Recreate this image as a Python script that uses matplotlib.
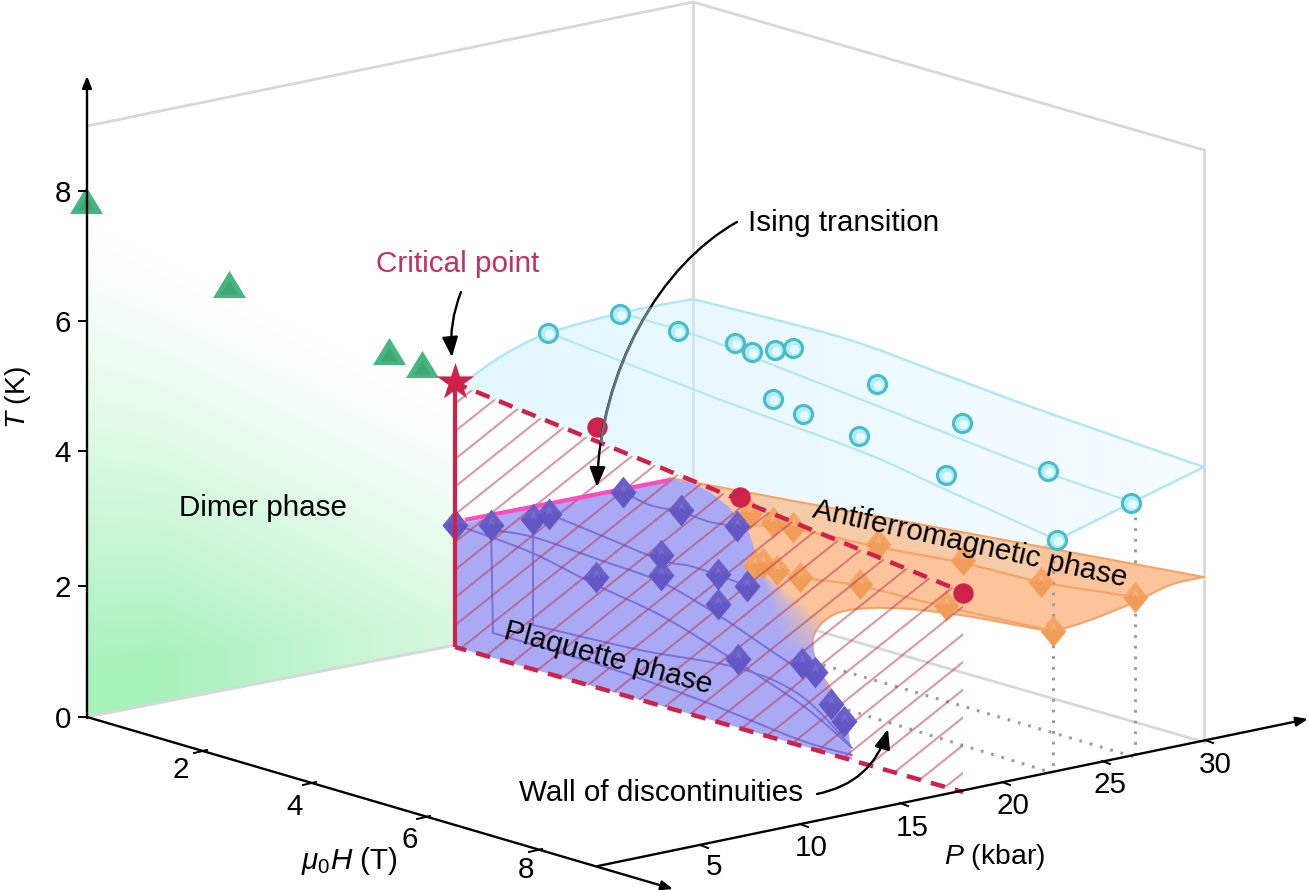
"""Pressure / field / temperature phase diagram drawn as a projected 3D box.

All coordinates are read off the figure in image pixels (x right, y down).
"""
import numpy as np
import matplotlib
matplotlib.use("Agg")
import matplotlib.pyplot as plt
from matplotlib.patches import Polygon, PathPatch, FancyArrowPatch
from matplotlib.path import Path

plt.rcParams["font.family"] = ["Liberation Sans", "DejaVu Sans"]
plt.rcParams["mathtext.fontset"] = "custom"
plt.rcParams["mathtext.rm"] = "Liberation Sans"
plt.rcParams["mathtext.it"] = "Liberation Sans:italic"

W, H = 1309, 890

# markers
dimer_x = [86, 229, 389, 422]
dimer_y = [200, 284, 351, 364]
plaquette_x = [491, 533, 549, 623, 681, 737, 661, 661, 596, 718, 747, 718, 738, 802, 815, 831, 844, 455]
plaquette_y = [525, 519, 514, 492, 510, 526, 555, 575, 577, 574, 586, 604, 659, 663, 672, 704, 721, 525]
afm_x = [750, 773, 793, 878, 963, 1041, 1135, 1053, 946, 860, 800, 777, 763, 755]
afm_y = [513, 522, 527, 544, 560, 582, 597, 631, 605, 584, 577, 570, 563, 565]
para_x = [548, 620, 678, 735, 752, 775, 793, 877, 773, 803, 859, 962, 946, 1048, 1131, 1057]
para_y = [333, 314, 331, 343, 352, 350, 348, 384, 399, 414, 436, 423, 475, 471, 503, 540]
ising_x = [597, 740, 963]
ising_y = [427, 497, 593]

# tick positions and labels
t_labels = ["0", "2", "4", "6", "8"]
t_tick_y = [717, 586, 451, 321, 191]
h_labels = ["2", "4", "6", "8"]
h_tick_x = [203, 312, 426, 538]
h_tick_y = [751, 783, 817, 850]
h_label_x = [181, 295, 410, 526]
h_label_y = [770, 807, 840, 870]
p_labels = ["5", "10", "15", "20", "25", "30"]
p_tick_x = [700, 800, 900, 1002, 1102, 1205]
p_tick_y = [845, 824, 803, 782, 761, 740]
p_label_x = [714, 811, 912, 1013, 1110, 1215]
p_label_y = [867, 848, 828, 806, 785, 765]

# outlines
green_outline = [(87, 200), (455, 383), (455, 647), (87, 717)]
para_left = [(470, 378), (505, 354), (549, 333), (621, 313), (693, 299)]
para_top = [(693, 299), (840, 337), (940, 373), (1040, 410), (1204, 467)]
para_outline = para_left + para_top[1:] + [(1131, 503), (1057, 540), (963, 592), (455, 383)]
afm_outline = [(670, 478), (1204, 577), (1170, 585), (1135, 602), (1090, 620), (1053, 632), (1000, 622),
               (960, 615), (910, 609), (870, 608), (840, 612), (822, 623), (813, 638), (814, 655),
               (822, 675), (835, 695), (800, 700), (700, 560)]
plaq_outline = [(455, 525), (670, 479), (690, 482), (710, 492), (730, 508), (745, 530), (830, 560),
                (822, 623), (813, 638), (814, 655), (822, 675), (835, 700), (848, 725),
                (852, 760), (455, 647)]
wall_outline = [(455, 383), (963, 592), (963, 792), (455, 647)]


def smooth(pts):
    """Catmull-Rom through pts, as a Bezier path."""
    pts = np.asarray(pts, dtype=float)
    verts = [pts[0]]
    codes = [Path.MOVETO]
    for i in range(len(pts) - 1):
        p0 = pts[max(i - 1, 0)]
        p1, p2 = pts[i], pts[i + 1]
        p3 = pts[min(i + 2, len(pts) - 1)]
        verts += [p1 + (p2 - p0) / 6, p2 - (p3 - p1) / 6, p2]
        codes += [Path.CURVE4] * 3
    return Path(verts, codes)


def curve(ax, pts, color, lw, z, alpha=1.0):
    ax.add_patch(PathPatch(smooth(pts), fc="none", ec=color, lw=lw, zorder=z, alpha=alpha,
                           capstyle="round"))


def gradient(ax, rgba, outline, z):
    """rgba covers the whole canvas; clip it to the outline."""
    im = ax.imshow(rgba, extent=(0, W, H, 0), aspect="auto", zorder=z, interpolation="bilinear")
    im.set_clip_path(Polygon(outline, closed=True, transform=ax.transData))


def diamonds(ax, x, y, base, dark, light, w, z):
    shape = [(0, 1), (0.82, 0), (0, -1), (-0.82, 0)]
    lower = [(0, -1), (0.82, 0), (0, 0.25), (-0.82, 0)]
    top = [(0, 1), (0.45, 0), (0, 0.25), (-0.45, 0)]
    ax.scatter(x, y, s=w, marker=shape, c=base, lw=0, zorder=z)
    ax.scatter(x, y, s=w, marker=lower, c=dark, lw=0, zorder=z, alpha=0.45)
    ax.scatter(x, y, s=w * 0.28, marker=top, c=light, lw=0, zorder=z, alpha=0.4)


fig = plt.figure(figsize=(W / 100, H / 100), dpi=100)
ax = fig.add_axes([0, 0, 1, 1])

yy, xx = np.mgrid[0:H, 0:W] + 0.5

# green dimer wall, white towards the top
top = 215 + (xx - 87) * 0.5
bot = 717 - (xx - 87) * 0.196
frac = np.clip((yy - top) / (bot - top), 0, 1)
rgba = np.zeros((H, W, 4))
rgba[..., :3] = (0.66, 0.95, 0.74)
rgba[..., 3] = np.clip(frac ** 1.3 * 1.15, 0, 1) * np.clip(1.15 - (xx - 87) / 368 * 0.7, 0, 1)
gradient(ax, rgba, green_outline, 2)

# box edges
grey = "#d8d8d8"
ax.plot([87, 693, 1204], [126, 2, 150], color=grey, lw=2, zorder=1)
ax.plot([693, 693], [2, 595], color=grey, lw=2, zorder=1)
ax.plot([1204, 1204], [150, 742], color=grey, lw=2, zorder=1)
ax.plot([693, 1204], [595, 742], color=grey, lw=2, zorder=1)
ax.plot([87, 455], [717, 645], color=grey, lw=2, zorder=3)

# paramagnetic surface
rgba = np.zeros((H, W, 4))
rgba[..., :3] = (0.82, 0.95, 1.0)
rgba[..., 3] = np.clip(0.62 - (xx - 455) / 750 * 0.42, 0.2, 1)
gradient(ax, rgba, para_outline, 4)
sky = "#b4e6f6"
curve(ax, para_left, sky, 1.8, 5)
curve(ax, para_top, sky, 1.8, 5)
ax.plot([1204, 1131, 1057, 963], [467, 503, 540, 592], color=sky, lw=1.8, zorder=5)
curve(ax, [(549, 333), (695, 390), (740, 407), (865, 453), (940, 487), (1057, 540)], sky, 1.5, 5)
curve(ax, [(621, 313), (695, 335), (760, 360), (870, 403), (1040, 470), (1135, 503)], sky, 1.5, 5)

# orange surface
ax.add_patch(Polygon(afm_outline, closed=True, fc="#fcc49a", ec="none", zorder=6))
ax.add_patch(Polygon([(670, 478), (1041, 547), (1041, 582), (963, 560), (878, 544), (793, 527), (750, 515)],
                     closed=True, fc="#f5cba8", ec="none", zorder=6))
ax.plot([670, 1204], [478, 577], color="#f5a468", lw=1.5, zorder=7)
curve(ax, [(1204, 577), (1170, 585), (1135, 602), (1090, 620), (1053, 632)], "#f5a468", 1.5, 7)
curve(ax, [(1053, 632), (1000, 622), (960, 615), (910, 609), (870, 608), (840, 612), (822, 623), (813, 638),
           (814, 655), (822, 675), (835, 695)], "#f5a468", 1.5, 7)
curve(ax, [(750, 525), (800, 530), (878, 547), (963, 563), (1041, 582), (1135, 597)], "#f5a468", 1.5, 7)
curve(ax, [(755, 565), (800, 577), (860, 586), (946, 607), (1053, 631)], "#f5a468", 1.5, 7)

# dotted drop lines
dots = dict(color="#9c9c9c", lw=2.2, ls=(0, (0.9, 2.6)), zorder=5.5)
ax.plot([823, 1135], [665, 757], **dots)
ax.plot([848, 1053], [710, 773], **dots)
ax.plot([1053, 1053], [645, 773], **dots)
ax.plot([1135, 1135], [517, 757], **dots)
ax.plot([1053, 1053], [560, 632], color="#9c9c9c", lw=2.2, ls=(0, (0.9, 2.6)), zorder=7)

# plaquette surface, melting into the orange near the end of the first-order line
x_edge = 750 + (yy - 537) * 0.3
width = np.maximum(1, (yy - 570) * 1.0)
rgba = np.zeros((H, W, 4))
rgba[..., :3] = (0.67, 0.67, 0.96)
rgba[..., 3] = np.maximum(1 - np.clip((xx - x_edge) / width, 0, 1), np.clip((yy - 625) / 25, 0, 1))
gradient(ax, rgba, plaq_outline, 9)

violet = "#7a70d6"
for line in ([(465, 528), (530, 552), (596, 585), (660, 615), (718, 650), (802, 705), (852, 748)],
             [(491, 530), (533, 537), (600, 560), (661, 582), (718, 615), (770, 650), (815, 680)],
             [(549, 514), (600, 535), (661, 560), (690, 566), (718, 575), (747, 586)],
             [(623, 492), (650, 505), (681, 512), (710, 522), (737, 526)],
             [(493, 633), (600, 665), (700, 700), (800, 740), (852, 755)],
             [(533, 625), (640, 650), (738, 668), (800, 695), (850, 745)]):
    curve(ax, line, violet, 1.4, 10)
ax.plot([491, 493], [525, 633], color=violet, lw=1.4, zorder=10)
ax.plot([533, 533], [519, 625], color=violet, lw=1.4, zorder=10)

diamonds(ax, afm_x, afm_y, "#f4a565", "#ee9247", "#fbc898", 500, 10.5)

# hatching of the discontinuity wall
wall = Polygon(wall_outline, closed=True, transform=ax.transData)
for y0 in np.arange(1207, 375, -27.7):
    ln, = ax.plot([455, 963], [y0, y0 - 0.8 * 508], color="#b8324e", alpha=0.5, lw=1.5, zorder=11)
    ln.set_clip_path(wall)

diamonds(ax, plaquette_x, plaquette_y, "#6a5fc9", "#5a4fbe", "#8f88e2", 520, 12)

# transition lines
crimson = "#cf2149"
ax.plot([455, 455], [383, 647], color=crimson, lw=3, zorder=13, solid_capstyle="butt")
ax.plot([455, 963], [383, 592], color=crimson, lw=3.2, ls=(0.5, (3.3, 2.3)), zorder=13)
ax.plot([455, 963], [647, 792], color=crimson, lw=3.2, ls=(0.67, (3.3, 2.3)), zorder=13)
ax.plot([465, 670], [520, 480], color="#fb4fc0", lw=3.2, zorder=11.5, solid_capstyle="butt")

# markers
triangle = [(0, 0.82), (-1, -0.82), (1, -0.82)]
ax.scatter(dimer_x, dimer_y, s=565, marker=triangle, c="#47b580", lw=0, zorder=14)
ax.scatter(dimer_x, [v + 3 for v in dimer_y], s=150, marker=triangle, c="#3da874", lw=0, zorder=14)
ax.scatter(para_x, para_y, s=170, c="#b5ebf4", edgecolors="#47bccb", lw=2.2, zorder=14)
ax.scatter([v + 1 for v in para_x], [v + 1 for v in para_y], s=45, c="#e4fafd", lw=0, zorder=14)
ax.scatter(ising_x, ising_y, s=215, c=crimson, lw=0, zorder=14)
ax.scatter(455, 382, s=800, marker="*", c=crimson, lw=0, zorder=15)

# axes
axis_arrow = dict(arrowstyle="-|>,head_length=0.7,head_width=0.28", color="k", lw=1.7, shrinkA=0, shrinkB=0)
ax.annotate("", xy=(87, 76), xytext=(87, 718), arrowprops=axis_arrow, zorder=16)
ax.annotate("", xy=(673, 889), xytext=(87, 717), arrowprops=axis_arrow, zorder=16)
ax.annotate("", xy=(1308, 719), xytext=(598, 866), arrowprops=axis_arrow, zorder=16)

fs = 21.3
for lab, y in zip(t_labels, t_tick_y):
    ax.plot([79, 87], [y, y], color="k", lw=1.4, zorder=16)
    ax.text(63, y + 3, lab, ha="center", va="center", fontsize=fs)
for lab, x, y, lx, ly in zip(h_labels, h_tick_x, h_tick_y, h_label_x, h_label_y):
    ax.plot([x - 9, x + 4], [y + 2, y - 1], color="k", lw=1.4, zorder=16)
    ax.text(lx, ly, lab, ha="center", va="center", fontsize=fs)
for lab, x, y, lx, ly in zip(p_labels, p_tick_x, p_tick_y, p_label_x, p_label_y):
    ax.plot([x, x + 8], [y, y + 3], color="k", lw=1.4, zorder=16)
    ax.text(lx, ly, lab, ha="center", va="center", fontsize=fs)

ax.text(18, 398, r"$\mathit{T}$ (K)", rotation=90, ha="center", va="center", fontsize=fs * 0.95)
ax.text(349, 861, r"$\mathit{\mu}_{\mathrm{0}}\mathit{H}$ (T)", ha="center", va="center", fontsize=fs)
ax.text(995, 857, r"$\mathit{P}$ (kbar)", ha="center", va="center", fontsize=fs * 0.96)

# labels
ax.text(458, 264, "Critical point", color="#c2305f", ha="center", va="center", fontsize=fs, zorder=17)
ax.text(748, 223, "Ising transition", ha="left", va="center", fontsize=fs, zorder=17)
ax.text(263, 508, "Dimer phase", ha="center", va="center", fontsize=fs, zorder=17)
ax.text(608, 658, "Plaquette phase", rotation=-15, rotation_mode="anchor", ha="center", va="center",
        fontsize=fs, zorder=17)
ax.text(970, 544, "Antiferromagnetic phase", rotation=-12.5, rotation_mode="anchor", ha="center", va="center",
        fontsize=fs, zorder=17)
ax.text(519, 793, "Wall of discontinuities", ha="left", va="center", fontsize=fs, zorder=17)

# call-out arrows
head = "-|>,head_length=0.75,head_width=0.3"
ising_path = Path([(737, 222), (660, 265), (600, 370), (597, 487)],
                  [Path.MOVETO, Path.CURVE4, Path.CURVE4, Path.CURVE4])
ax.add_patch(FancyArrowPatch(path=ising_path, arrowstyle=head, mutation_scale=16, color="k", lw=1.7, zorder=18))
grey_part = PathPatch(ising_path, fc="none", ec="#66737a", lw=1.9, zorder=18.5)
ax.add_patch(grey_part)
grey_part.set_clip_path(Polygon(para_outline, closed=True, transform=ax.transData))
for start, end, rad in (((461, 292), (452, 357), 0.12),
                        ((817, 794), (888, 729), 0.3)):
    ax.add_patch(FancyArrowPatch(start, end, connectionstyle=f"arc3,rad={rad}", arrowstyle=head,
                                 mutation_scale=16, color="k", lw=1.7, shrinkA=0, shrinkB=0, zorder=18))

ax.set_xlim(0, W)
ax.set_ylim(H, 0)
ax.axis("off")
fig.savefig("out.png", dpi=100)
